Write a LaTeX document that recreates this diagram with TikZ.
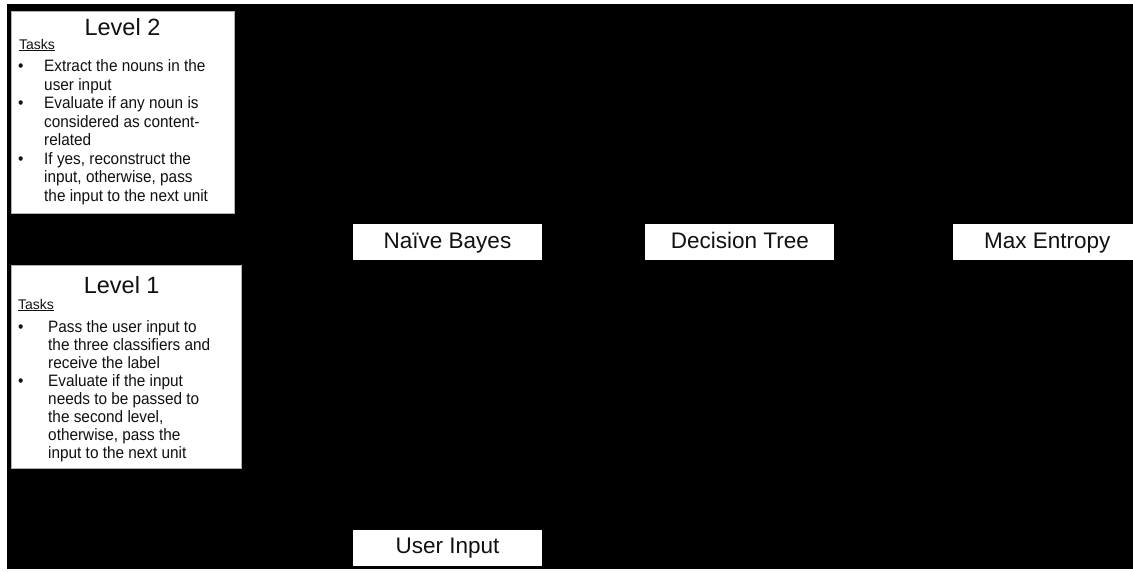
\documentclass[tikz,border=0pt]{standalone}
\usepackage{fontspec}
\setmainfont{Liberation Sans}
\usetikzlibrary{positioning}
\definecolor{slide}{HTML}{000000}
\definecolor{paper}{HTML}{FFFFFF}
\definecolor{ink}{HTML}{111111}

\tikzset{
  levelbox/.style={fill=paper, draw=gray!60, very thin, anchor=north west, inner sep=0pt},
  clfbox/.style={fill=paper, minimum width=189pt, minimum height=35.5pt, inner sep=0pt,
    text height=16.5pt, text depth=4.5pt, text=ink, font=\fontsize{22.5}{27}\selectfont},
  lvltitle/.style={anchor=base, inner sep=0pt, text=ink, font=\fontsize{23.5}{27}\selectfont},
  lvltasks/.style={anchor=base west, inner sep=0pt, text=ink, font=\fontsize{14}{17}\selectfont},
  lvllist/.style={anchor=base west, inner sep=0pt, xscale=0.93, text=ink, font=\fontsize{16.5}{#1}\selectfont},
}

\begin{document}
\begin{tikzpicture}[x=1pt, y=-1pt]
    \useasboundingbox (0,0) rectangle (1133,571);
    \clip (0,0) rectangle (1133,571);
    \fill[paper] (0,0) rectangle (1133,571);
    \fill[slide] (7,4) rectangle (1133,569);

    % level 2
    \node[levelbox, minimum width=223pt, minimum height=202pt] (lvltwo) at (11,11) {};
    \node[lvltitle] (lvltwotitle) at (122.5,35) {Level 2};
    \node[lvltasks] (lvltwotasks) at (19,49) {\underline{Tasks}};
    \node[lvllist=18.5] (lvltwolist) at (18,71.5) {\begin{tabular}[t]{@{}p{28pt}@{}l@{}}
        \textbullet & Extract the nouns in the\\
                    & user input\\
        \textbullet & Evaluate if any noun is\\
                    & considered as content-\\
                    & related\\
        \textbullet & If yes, reconstruct the\\
                    & input, otherwise, pass\\
                    & the input to the next unit
    \end{tabular}};

    % level 1
    \node[levelbox, minimum width=230pt, minimum height=203pt] (lvlone) at (11,265) {};
    \node[lvltitle] (lvlonetitle) at (121.7,293) {Level 1};
    \node[lvltasks] (lvlonetasks) at (18,309) {\underline{Tasks}};
    \node[lvllist=18.1] (lvlonelist) at (18,332) {\begin{tabular}[t]{@{}p{32.3pt}@{}l@{}}
        \textbullet & Pass the user input to\\
                    & the three classifiers and\\
                    & receive the label\\
        \textbullet & Evaluate if the input\\
                    & needs to be passed to\\
                    & the second level,\\
                    & otherwise, pass the\\
                    & input to the next unit
    \end{tabular}};

    % classifiers
    \node[clfbox] (nbayes) at (447.5,242) {Naïve Bayes};
    \node[clfbox, right=103pt of nbayes] (dtree) {Decision Tree};
    \node[clfbox, right=118pt of dtree] (maxent) {Max Entropy};
    \node[clfbox, below=270pt of nbayes] (userin) {User Input};
\end{tikzpicture}
\end{document}
